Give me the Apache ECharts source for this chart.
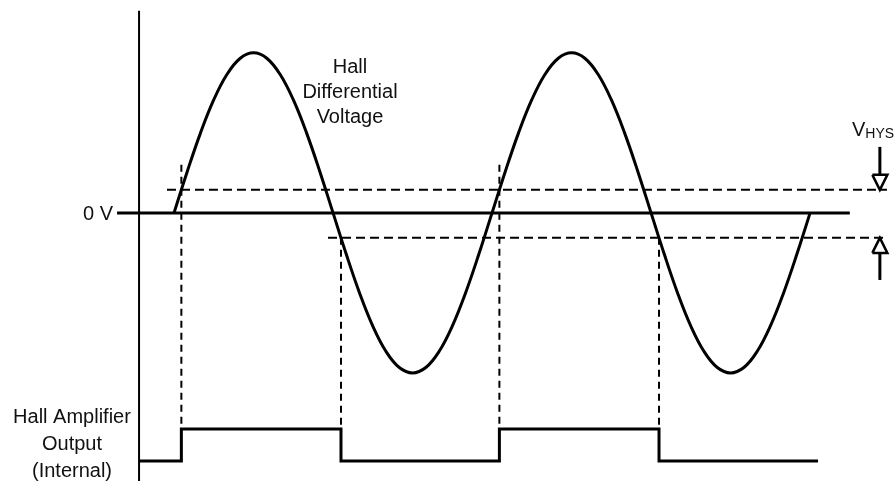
<!DOCTYPE html>
<html>
<head>
<meta charset="utf-8">
<script src="https://cdn.jsdelivr.net/npm/echarts@6/dist/echarts.min.js"></script>
<style>
html,body{margin:0;padding:0;background:#fff;}
#chart{width:894px;height:481px;}
</style>
</head>
<body>
<div id="chart"></div>
<script>
// x: electrical phase (degrees), y: normalised Hall voltage (peak = 1)
const sinePhase = [0,15,30,45,60,75,90,105,120,135,150,165,180,195,210,225,240,255,270,285,300,315,330,345,
  360,375,390,405,420,435,450,465,480,495,510,525,540,555,570,585,600,615,630,645,660,675,690,705,720];
const sineValue = [0,0.259,0.5,0.707,0.866,0.966,1,0.966,0.866,0.707,0.5,0.259,0,-0.259,-0.5,-0.707,-0.866,-0.966,-1,-0.966,-0.866,-0.707,-0.5,-0.259,
  0,0.259,0.5,0.707,0.866,0.966,1,0.966,0.866,0.707,0.5,0.259,0,-0.259,-0.5,-0.707,-0.866,-0.966,-1,-0.966,-0.866,-0.707,-0.5,-0.259,0];

const zeroLine = [[-64.5,0],[765,0]];
const axisLine = [[-39.6,1.2625],[-39.6,-1.675]];
const upperThreshold = [[-8,0.144],[807,0.144]];
const lowerThreshold = [[174.3,-0.156],[807,-0.156]];
const switchPoints = [
  [[8.3,0.30],[8.3,-1.35]],
  [[189,-0.156],[189,-1.35]],
  [[368.3,0.30],[368.3,-1.35]],
  [[549,-0.156],[549,-1.35]]
];
const ampOutput = [[-40,-1.55],[8.3,-1.55],[8.3,-1.35],[189,-1.35],[189,-1.55],[368.3,-1.55],[368.3,-1.35],[549,-1.35],[549,-1.55],[729,-1.55]];
const downArrowShaft = [[799,0.4125],[799,0.2375]];
const downArrowHead = [[790.5,0.2375],[807.5,0.2375],[799,0.144],[790.5,0.2375]];
const upArrowShaft = [[799,-0.419],[799,-0.25]];
const upArrowHead = [[790.5,-0.25],[807.5,-0.25],[799,-0.156],[790.5,-0.25]];

const FONT = '20px "Liberation Sans", Arial, sans-serif';
const sineData = sinePhase.map((p,i)=>[p,sineValue[i]]);

function solid(data, w, extra) {
  return Object.assign({type:'line', data:data, symbol:'none', silent:true, clip:false,
    lineStyle:{color:'#000', width:w, cap:'butt', join:'miter'}}, extra||{});
}
function dashed(data, dash) {
  return {type:'line', data:data, symbol:'none', silent:true, clip:false,
    lineStyle:{color:'#000', width:2, type:dash, cap:'butt'}};
}

const series = [
  solid(axisLine, 2),
  solid(zeroLine, 3),
  dashed(upperThreshold, [9,5]),
  dashed(lowerThreshold, [9,5]),
  ...switchPoints.map(d=>dashed(d,[7,5])),
  solid(sineData, 3, {smooth:0.4}),
  solid(ampOutput, 3),
  solid(downArrowShaft, 3),
  solid(downArrowHead, 2.5),
  solid(upArrowShaft, 3),
  solid(upArrowHead, 2.5)
];

const chart = echarts.init(document.getElementById('chart'), null, {renderer:'canvas'});
chart.setOption({
  animation:false,
  backgroundColor:'#fff',
  grid:{left:0,right:0,top:0,bottom:0,containLabel:false},
  xAxis:{type:'value', min:-197, max:815, show:false},
  yAxis:{type:'value', min:-1.675, max:1.33, show:false},
  series:series,
  graphic:[
    {type:'text', style:{text:'0 V', x:113, y:214, font:FONT, fill:'#111', align:'right', verticalAlign:'middle'}},
    {type:'text', style:{text:'Hall\nDifferential\nVoltage', x:350, y:92, font:FONT, fill:'#111', align:'center', verticalAlign:'middle', lineHeight:25}},
    {type:'text', style:{text:'Hall Amplifier\nOutput\n(Internal)', x:72, y:444, font:FONT, fill:'#111', align:'center', verticalAlign:'middle', lineHeight:27}},
    {type:'text', style:{text:'{v|V}{s|HYS}', x:852, y:130, fill:'#111', align:'left', verticalAlign:'middle',
      rich:{v:{font:FONT, fill:'#111'}, s:{font:'14px "Liberation Sans", Arial, sans-serif', fill:'#111', padding:[8,0,0,0]}}}}
  ]
});
</script>
</body>
</html>
